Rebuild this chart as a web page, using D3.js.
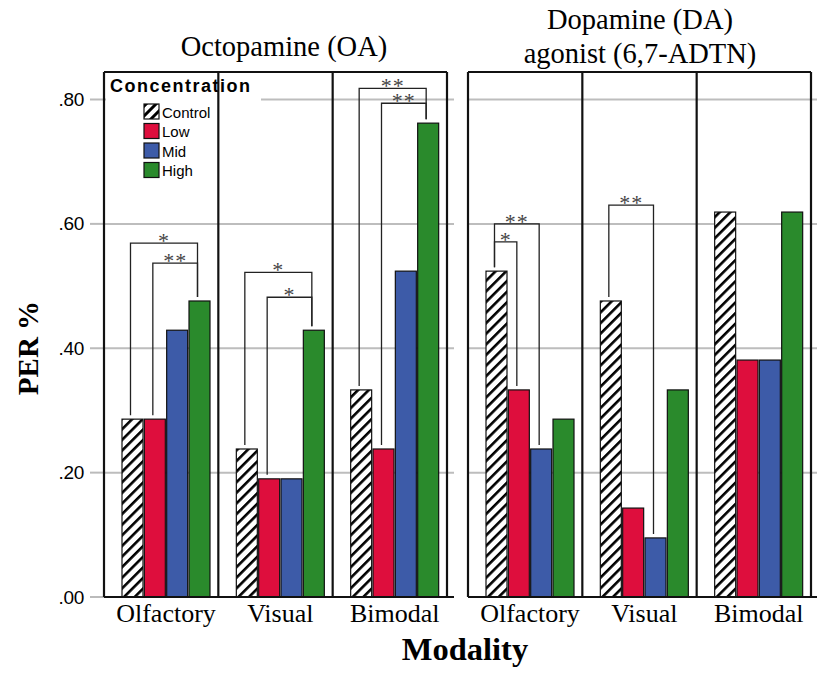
<!DOCTYPE html>
<html>
<head>
<meta charset="utf-8">
<script src="https://cdn.jsdelivr.net/npm/d3@7"></script>
<style>
  body { margin: 0; background: #fff; }
  svg { display: block; }
</style>
</head>
<body>
<svg id="chart"></svg>
<script>
// data
var modalities = ["Olfactory", "Visual", "Bimodal"];
var concentrations = ["Control", "Low", "Mid", "High"];
var panelTitles = [["Octopamine (OA)"], ["Dopamine (DA)", "agonist (6,7-ADTN)"]];
// PER values, one row per modality, one column per concentration
var oaValues = [
  [0.286, 0.286, 0.429, 0.476],
  [0.238, 0.190, 0.190, 0.429],
  [0.333, 0.238, 0.524, 0.762]
];
var daValues = [
  [0.524, 0.333, 0.238, 0.286],
  [0.476, 0.143, 0.095, 0.333],
  [0.619, 0.381, 0.381, 0.619]
];
var yTicks = [0, 0.2, 0.4, 0.6, 0.8];
// significance brackets: modality, from, to, bracket level, label
var oaBrackets = [
  ["Olfactory", "Control", "High", 0.569, "*"],
  ["Olfactory", "Low", "High", 0.537, "**"],
  ["Visual", "Control", "High", 0.522, "*"],
  ["Visual", "Low", "High", 0.482, "*"],
  ["Bimodal", "Control", "High", 0.818, "**"],
  ["Bimodal", "Low", "High", 0.794, "**"]
];
var daBrackets = [
  ["Olfactory", "Control", "Mid", 0.600, "**"],
  ["Olfactory", "Control", "Low", 0.571, "*"],
  ["Visual", "Control", "Mid", 0.630, "**"]
];

var width = 817, height = 677;
var svg = d3.select("#chart").attr("width", width).attr("height", height);

var colors = d3.scaleOrdinal()
  .domain(concentrations)
  .range(["url(#hatch)", "#DE0E3D", "#3D5BA8", "#2A8A2C"]);

// hatch patterns for Control
var defs = svg.append("defs");
function hatch(id, size, thick) {
  var pat = defs.append("pattern")
    .attr("id", id)
    .attr("patternUnits", "userSpaceOnUse")
    .attr("width", size).attr("height", size)
    .attr("patternTransform", "rotate(45)");
  pat.append("rect").attr("width", size).attr("height", size).attr("fill", "#fff");
  pat.append("rect").attr("width", thick).attr("height", size).attr("fill", "#000");
}
hatch("hatch", 7.5, 2.6);
hatch("hatchL", 7, 3);

var y = d3.scaleLinear().domain([0, 0.8]).range([597, 99.5]);
var frameTop = 72;

var panels = [
  { left: 104, right: 447, values: oaValues, brackets: oaBrackets, titles: panelTitles[0], titleX: 284, titleY: [56] },
  { left: 468, right: 811, values: daValues, brackets: daBrackets, titles: panelTitles[1], titleX: 640, titleY: [29, 63] }
];

var serif = "'Liberation Serif', 'Times New Roman', serif";
var sans = "'Liberation Sans', Arial, sans-serif";

// y axis ticks and labels
var yAxis = svg.append("g");
yAxis.selectAll("line")
  .data(yTicks)
  .enter().append("line")
  .attr("x1", 90).attr("x2", 104)
  .attr("y1", function(d) { return y(d); })
  .attr("y2", function(d) { return y(d); })
  .attr("stroke", "#bbb").attr("stroke-width", 2);
yAxis.selectAll("text")
  .data(yTicks)
  .enter().append("text")
  .attr("x", 84)
  .attr("y", function(d) { return y(d) + 6.5; })
  .attr("text-anchor", "end")
  .style("font-family", sans)
  .style("font-size", "19px")
  .style("letter-spacing", "-0.3px")
  .text(function(d) { return d3.format(".2f")(d).replace(/^0/, ""); });

svg.append("text")
  .attr("transform", "translate(38," + 348 + ") rotate(-90)")
  .attr("text-anchor", "middle")
  .style("font-family", serif)
  .style("font-weight", "bold")
  .style("font-size", "29px")
  .text("PER %");

svg.append("text")
  .attr("x", 465).attr("y", 660)
  .attr("text-anchor", "middle")
  .style("font-family", serif)
  .style("font-weight", "bold")
  .style("font-size", "32.5px")
  .text("Modality");

panels.forEach(function(p, pi) {
  var g = svg.append("g");

  var x = d3.scaleBand().domain(modalities).range([p.left, p.right]);
  var inner = d3.scaleBand().domain(concentrations)
    .range([18, 106]).paddingInner(0.06);

  // gridlines
  g.selectAll(".grid")
    .data(yTicks.slice(1))
    .enter().append("line")
    .attr("x1", p.left).attr("x2", p.right + 7)
    .attr("y1", function(d) { return y(d); })
    .attr("y2", function(d) { return y(d); })
    .attr("stroke", "#bdbdbd").attr("stroke-width", 2);

  // bars
  var groups = g.selectAll(".grp")
    .data(p.values)
    .enter().append("g")
    .attr("transform", function(d, i) { return "translate(" + x(modalities[i]) + ",0)"; });
  groups.selectAll("rect")
    .data(function(d) { return d.map(function(v, j) { return { c: concentrations[j], v: v }; }); })
    .enter().append("rect")
    .attr("x", function(d) { return inner(d.c); })
    .attr("width", inner.bandwidth())
    .attr("y", function(d) { return y(d.v); })
    .attr("height", function(d) { return y(0) - y(d.v); })
    .attr("fill", function(d) { return colors(d.c); })
    .attr("stroke", "#111").attr("stroke-width", 1.2);

  // modality labels
  g.selectAll(".mlab")
    .data(modalities)
    .enter().append("text")
    .attr("x", function(d) { return x(d) + 62; })
    .attr("y", 622)
    .attr("text-anchor", "middle")
    .style("font-family", serif)
    .style("font-size", "26px")
    .text(function(d) { return d; });

  // legend (left panel only), drawn before the frame lines
  if (pi === 0) {
    var lg = g.append("g");
    lg.append("rect").attr("x", 106).attr("y", 74).attr("width", 155).attr("height", 112).attr("fill", "#fff");
    lg.append("text")
      .attr("x", 110).attr("y", 92)
      .style("font-family", sans).style("font-weight", "bold").style("font-size", "18px")
      .style("letter-spacing", "1.5px")
      .text("Concentration");
    var items = lg.selectAll(".li")
      .data(concentrations)
      .enter().append("g")
      .attr("transform", function(d, i) { return "translate(144," + (104 + i * 19.5) + ")"; });
    items.append("rect")
      .attr("width", 15).attr("height", 15)
      .attr("fill", function(d) { return d === "Control" ? "url(#hatchL)" : colors(d); })
      .attr("stroke", "#111").attr("stroke-width", 1.2);
    items.append("text")
      .attr("x", 18).attr("y", 13.5)
      .style("font-family", sans).style("font-size", "15px")
      .text(function(d) { return d; });
  }

  // frame
  g.append("line").attr("x1", p.left).attr("x2", p.left).attr("y1", frameTop).attr("y2", y(0))
    .attr("stroke", "#111").attr("stroke-width", 2.2);
  g.append("line").attr("x1", p.left).attr("x2", p.right).attr("y1", frameTop).attr("y2", frameTop)
    .attr("stroke", "#111").attr("stroke-width", 2.2);
  g.selectAll(".div")
    .data(modalities.slice(1).concat([null]))
    .enter().append("line")
    .attr("x1", function(d) { return d ? x(d) : p.right; })
    .attr("x2", function(d) { return d ? x(d) : p.right; })
    .attr("y1", frameTop).attr("y2", y(0))
    .attr("stroke", "#111").attr("stroke-width", 2.2);
  g.append("line").attr("x1", p.left).attr("x2", p.right + 7).attr("y1", y(0)).attr("y2", y(0))
    .attr("stroke", "#111").attr("stroke-width", 2.2);

  // significance brackets
  function barCenter(m, c) { return x(m) + inner(c) + inner.bandwidth() / 2 - 2; }
  function barTop(m, c) {
    return y(p.values[modalities.indexOf(m)][concentrations.indexOf(c)]) - 4;
  }
  var br = g.selectAll(".br")
    .data(p.brackets)
    .enter().append("g");
  br.append("path")
    .attr("d", function(d) {
      var x1 = barCenter(d[0], d[1]), x2 = barCenter(d[0], d[2]), ly = y(d[3]);
      return "M" + x1 + "," + barTop(d[0], d[1]) + "V" + ly + "H" + x2 + "V" + barTop(d[0], d[2]);
    })
    .attr("fill", "none").attr("stroke", "#222").attr("stroke-width", 1.3);
  br.append("text")
    .attr("x", function(d) { return (barCenter(d[0], d[1]) + barCenter(d[0], d[2])) / 2; })
    .attr("y", function(d) { return y(d[3]) + 5; })
    .attr("text-anchor", "middle")
    .style("font-family", serif).style("font-size", "22px").style("fill", "#444")
    .style("letter-spacing", "1px")
    .text(function(d) { return d[4]; });

  // panel title
  svg.selectAll(".t" + pi)
    .data(p.titles)
    .enter().append("text")
    .attr("x", p.titleX)
    .attr("y", function(d, i) { return p.titleY[i]; })
    .attr("text-anchor", "middle")
    .style("font-family", serif).style("font-size", "28.5px")
    .text(function(d) { return d; });
});
</script>
</body>
</html>
